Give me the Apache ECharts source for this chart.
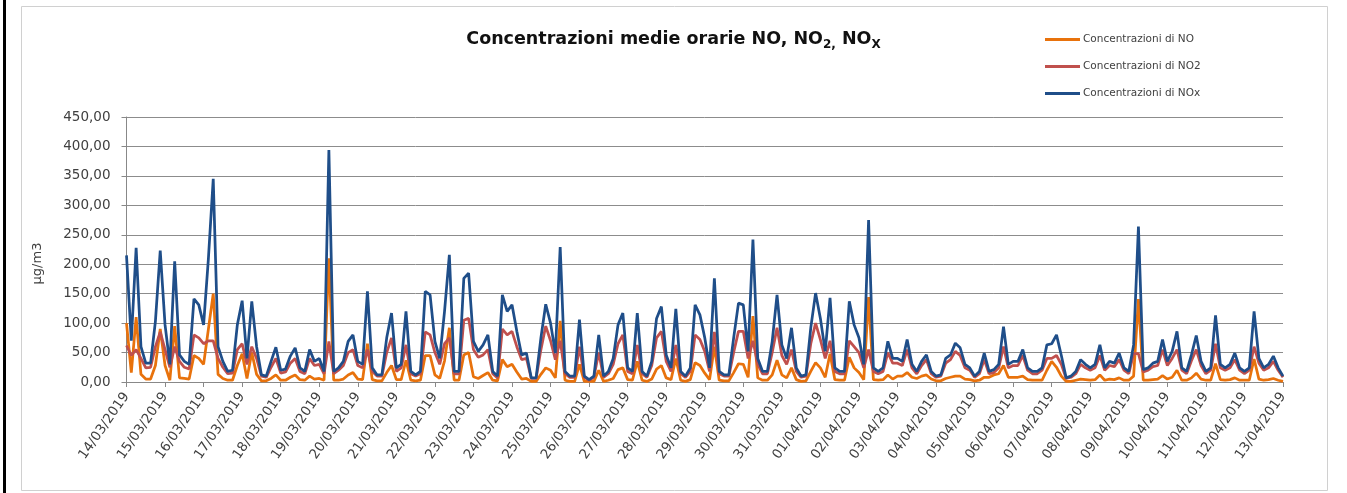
<!DOCTYPE html>
<html><head><meta charset="utf-8">
<script src="https://cdn.jsdelivr.net/npm/echarts@6/dist/echarts.min.js"></script>
<style>html,body{margin:0;padding:0;background:#fff}#c{width:1347px;height:493px}</style>
</head><body><div id="c"></div>
<script>
// Day tick labels (one per day, 14/03/2019 .. 13/04/2019)
const days = ['14/03/2019','15/03/2019','16/03/2019','17/03/2019','18/03/2019','19/03/2019','20/03/2019','21/03/2019','22/03/2019','23/03/2019','24/03/2019','25/03/2019','26/03/2019','27/03/2019','28/03/2019','29/03/2019','30/03/2019','31/03/2019','01/04/2019','02/04/2019','03/04/2019','04/04/2019','05/04/2019','06/04/2019','07/04/2019','08/04/2019','09/04/2019','10/04/2019','11/04/2019','12/04/2019','13/04/2019'];
// Sample hours within each day (3-hourly readings)
const slotHours = ['00','03','06','09','12','15','18','21'];

// Concentrazioni di NO (µg/m3)
const NO = [100,16,110,13,5,5,28,90,
28,3,95,7,6,5,45,40,
30,90,150,13,6,3,3,28,
48,6,50,13,2,2,6,12,
3,3,8,12,4,3,10,5,
6,3,210,3,3,5,12,16,
5,4,65,4,2,2,16,28,
4,4,37,3,2,3,45,45,
12,6,36,92,3,3,46,50,
9,6,11,16,3,2,38,26,
30,17,5,6,1,1,13,24,
20,7,104,3,1,1,30,1,
1,1,20,1,3,6,21,24,
4,3,35,3,1,5,22,28,
7,4,40,3,1,4,33,28,
15,4,60,3,2,2,16,31,
30,8,112,7,3,3,12,37,
12,7,24,4,1,2,18,33,
24,8,48,4,3,3,42,24,
16,4,144,4,3,4,12,5,
10,10,16,8,6,10,12,5,
2,2,6,8,10,10,5,4,
2,3,8,8,12,14,28,8,
8,8,10,4,3,3,3,20,
35,25,10,1,1,3,5,4,
3,4,12,3,5,4,7,3,
3,10,141,3,3,4,5,11,
5,8,20,3,3,7,15,5,
3,3,31,4,3,4,7,3,
3,3,39,5,3,4,6,3,
1];

// Concentrazioni di NO2 (µg/m3)
const NO2 = [62,45,55,40,24,25,60,85,
55,25,60,35,25,22,80,75,
65,70,70,40,25,14,15,55,
65,30,60,40,10,8,25,40,
15,17,32,40,18,14,40,28,
30,14,69,14,20,28,50,55,
28,24,55,18,10,10,50,75,
18,24,63,14,10,14,85,80,
50,30,65,75,14,14,105,108,
55,42,46,55,14,7,90,80,
86,60,38,40,6,6,55,95,
70,38,70,14,8,8,60,8,
3,8,50,8,14,30,65,80,
18,14,63,14,8,28,75,86,
35,18,63,14,8,18,80,72,
52,18,85,14,10,10,50,86,
86,40,70,30,14,14,50,92,
45,30,55,18,8,10,65,100,
72,40,70,18,14,14,70,60,
50,24,55,18,14,18,50,32,
32,28,55,24,14,28,38,14,
8,10,32,38,52,45,24,20,
8,14,38,14,16,24,60,24,
28,28,45,20,14,14,20,40,
40,45,30,6,8,14,30,24,
20,24,45,20,28,26,38,20,
14,48,48,17,20,26,28,55,
28,40,55,20,14,36,55,28,
14,20,65,24,20,24,38,20,
14,20,60,32,20,24,35,20,
8];

// Concentrazioni di NOx (µg/m3)
const NOx = [215,70,228,60,32,32,103,223,
97,30,205,46,35,30,141,131,
97,210,345,60,35,18,20,97,
138,40,137,60,12,10,35,59,
20,22,44,58,24,18,55,35,
40,18,394,18,24,35,69,80,
35,30,154,24,12,12,75,117,
24,30,120,18,12,18,154,148,
69,40,120,216,18,18,176,185,
69,52,63,80,18,10,148,120,
131,86,46,49,7,7,75,132,
100,49,229,18,10,10,106,10,
4,10,80,10,18,40,97,117,
24,18,117,18,10,35,108,128,
46,24,124,18,10,24,131,114,
75,24,176,18,12,12,75,134,
131,52,242,40,18,18,69,148,
63,40,92,24,10,12,92,151,
108,52,143,24,18,18,137,97,
75,30,275,24,18,24,69,40,
40,35,72,30,18,35,46,18,
10,12,40,46,66,58,30,24,
10,18,49,18,21,30,94,30,
35,35,55,24,18,18,24,63,
65,80,45,7,10,18,38,30,
24,30,63,24,35,32,49,24,
18,63,264,21,24,32,35,72,
35,52,86,24,18,46,79,35,
18,24,113,30,24,30,49,24,
18,24,120,40,24,30,44,24,
10];

const seriesNames = ['Concentrazioni di NO','Concentrazioni di NO2','Concentrazioni di NOx'];
const colors = ['#E8720C','#C0504D','#1F4E89'];

const categories = [];
for (let d = 0; d < days.length - 1; d++) {
  for (const h of slotHours) categories.push(h === '00' ? days[d] : days[d] + ' ' + h + ':00');
}
categories.push(days[days.length - 1]);

const FONT = "'DejaVu Sans', sans-serif";
const chart = echarts.init(document.getElementById('c'), null, {renderer: 'canvas'});
chart.setOption({
  animation: false,
  backgroundColor: '#fff',
  graphic: [
    {type: 'rect', left: 3, top: 0, shape: {width: 3, height: 493}, style: {fill: '#000'}},
    {type: 'rect', shape: {x: 21.5, y: 6.5, width: 1306, height: 484}, style: {fill: 'none', stroke: '#d0d0d0', lineWidth: 1}}
  ],
  title: {
    text: '{a|Concentrazioni medie orarie NO, NO}{s|2,}{a| NO}{s|X}',
    left: 'center',
    top: 22,
    textStyle: {
      rich: {
        a: {fontFamily: FONT, fontSize: 17.5, fontWeight: 'bold', color: '#111', lineHeight: 24},
        s: {fontFamily: FONT, fontSize: 12, fontWeight: 'bold', color: '#111', lineHeight: 10, verticalAlign: 'bottom'}
      }
    }
  },
  legend: {
    orient: 'vertical',
    left: 1040,
    top: 29,
    itemWidth: 35,
    itemHeight: 3,
    itemGap: 16,
    icon: 'rect',
    data: seriesNames,
    textStyle: {fontFamily: FONT, fontSize: 10.5, color: '#404040', padding: [0, 0, 0, -2]}
  },
  grid: {left: 126.5, right: 64, top: 117, bottom: 111, containLabel: false},
  xAxis: {
    type: 'category',
    data: categories,
    boundaryGap: false,
    axisLine: {lineStyle: {color: '#888', width: 1}},
    axisTick: {show: true, interval: 7, length: 5, lineStyle: {color: '#888'}},
    axisLabel: {
      interval: 7,
      rotate: 55,
      margin: 12,
      fontFamily: FONT,
      fontSize: 13.5,
      color: '#404040',
      formatter: v => v.split(' ')[0]
    },
    splitLine: {show: false}
  },
  yAxis: {
    type: 'value',
    min: 0,
    max: 450,
    interval: 50,
    name: 'µg/m3',
    nameLocation: 'middle',
    nameGap: 82,
    nameRotate: 90,
    nameTextStyle: {fontFamily: FONT, fontSize: 13, color: '#404040', padding: [0, 28, 0, 0]},
    axisLine: {show: true, lineStyle: {color: '#888'}},
    axisTick: {show: true, length: 5, lineStyle: {color: '#888'}},
    axisLabel: {
      margin: 16,
      fontFamily: FONT,
      fontSize: 13.5,
      color: '#404040',
      formatter: v => v.toFixed(2).replace('.', ',')
    },
    splitLine: {lineStyle: {color: '#8c8c8c', width: 1}}
  },
  series: [
    {name: seriesNames[0], type: 'line', data: NO, showSymbol: false, lineStyle: {width: 2.75, color: colors[0]}, itemStyle: {color: colors[0]}},
    {name: seriesNames[1], type: 'line', data: NO2, showSymbol: false, lineStyle: {width: 2.75, color: colors[1]}, itemStyle: {color: colors[1]}},
    {name: seriesNames[2], type: 'line', data: NOx, showSymbol: false, lineStyle: {width: 2.75, color: colors[2]}, itemStyle: {color: colors[2]}}
  ]
});
</script>
</body></html>
